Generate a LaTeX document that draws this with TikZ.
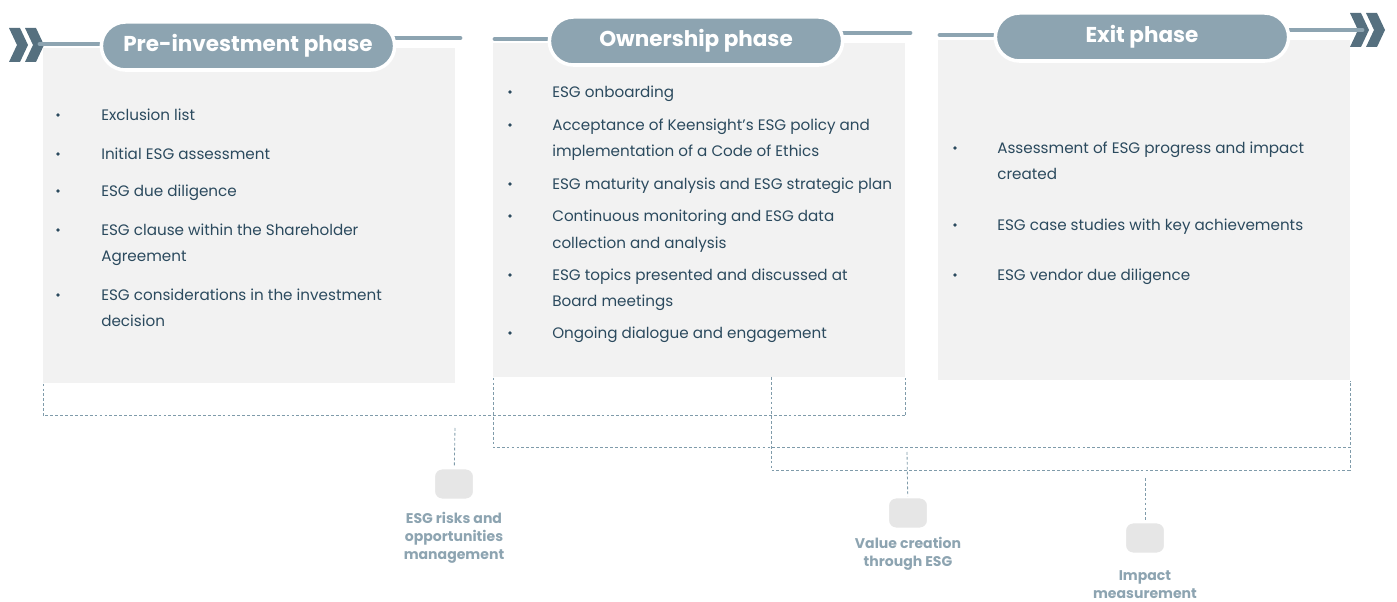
\documentclass[tikz,border=0pt]{standalone}
\usepackage{fontspec}
\setmainfont{Poppins}
\usepackage{tikz}
\usetikzlibrary{positioning}
\definecolor{slate}{HTML}{8DA4B1}
\definecolor{darkslate}{HTML}{56707F}
\definecolor{boxgrey}{HTML}{F2F2F2}
\definecolor{icongrey}{HTML}{E6E6E6}
\definecolor{bodytext}{HTML}{2B4A5E}
\definecolor{dashcol}{HTML}{7F9BAA}
\newcommand{\chevrons}[2]{%
  \foreach \dx in {0,16}
    \fill[darkslate] (#1+\dx,#2) -- ++(11,0) -- ++(8,17) -- ++(-8,17) -- ++(-11,0) -- ++(8,-17) -- cycle;}
\tikzset{phase/.style={fill=slate, draw=white, line width=2.5pt, rounded corners=0.6cm,
           minimum width=7.33cm, minimum height=1.2cm, text=white,
           font=\fontsize{15.3}{17}\selectfont\bfseries},
         panel/.style={fill=boxgrey, inner sep=0pt, anchor=north west, minimum width=10.3cm},
         track/.style={slate, line width=3.5pt, line cap=round},
         bracket/.style={dashcol, line width=0.6pt, dash pattern=on 2pt off 1.5pt},
         item/.style={anchor=west, inner sep=0pt, text=bodytext, text height=1.6ex, text depth=0.3ex,
           font=\fontsize{10.8}{13}\selectfont},
         dot/.style={inner sep=0pt, fill=bodytext, circle, minimum size=2.6pt},
         icon/.style={fill=icongrey, draw=white, line width=1.5pt, rounded corners=0.2cm,
           minimum width=1cm, minimum height=0.78cm},
         tag/.style={align=center, text=slate, inner sep=0pt,
           font=\fontsize{10}{12.8}\selectfont\bfseries}}

\begin{document}
\begin{tikzpicture}[x=0.025cm, y=-0.025cm]
\useasboundingbox (0,0) rectangle (1397,602);
\node[panel, minimum height=8.375cm] (prebox) at (43,48) {};
\node[panel, minimum height=8.35cm] (ownbox) at (493,43) {};
\node[panel, minimum height=8.5cm] (exitbox) at (938,40) {};
\chevrons{9}{28}
\chevrons{1350}{13}
\coordinate (lstart) at (40,44);
\coordinate (preend) at (460,38);
\coordinate (ownstart) at (495,39);
\coordinate (ownend) at (910,33);
\coordinate (exitstart) at (940,35);
\coordinate (rend) at (1362,30);
\draw[track] (lstart) -- (248,44);
\draw[track] (248,38) -- (preend);
\draw[track] (ownstart) -- (696,39);
\draw[track] (696,33) -- (ownend);
\draw[track] (exitstart) -- (1142,35);
\draw[track] (1142,30) -- (rend);
\node[phase] (pre) at (248,46) {Pre-investment phase};
\node[phase] (own) at (696,41) {Ownership phase};
\node[phase] (exit) at (1142,37) {Exit phase};
\foreach \y [count=\i] in {115,154,191,230,295}
  \node[dot] (preb\i) at (58,\y) {};
\foreach \y/\t [count=\i] in {115/Exclusion list, 154/Initial ESG assessment, 191/ESG due diligence,
    230/ESG clause within the Shareholder, 256/Agreement,
    295/ESG considerations in the investment, 321/decision}
  \node[item] (pre\i) at (101,\y) {\t};
\foreach \y [count=\i] in {92,125,184,216,275,333}
  \node[dot] (ownb\i) at (510,\y) {};
\foreach \y/\t [count=\i] in {92/ESG onboarding, 125/Acceptance of Keensight’s ESG policy and,
    151/implementation of a Code of Ethics, 184/ESG maturity analysis and ESG strategic plan,
    216/Continuous monitoring and ESG data, 243/collection and analysis,
    275/ESG topics presented and discussed at, 301/Board meetings,
    333/Ongoing dialogue and engagement}
  \node[item] (own\i) at (552,\y) {\t};
\foreach \y [count=\i] in {148,225,275}
  \node[dot] (exitb\i) at (955,\y) {};
\foreach \y/\t [count=\i] in {148/Assessment of ESG progress and impact, 174/created,
    225/ESG case studies with key achievements, 275/ESG vendor due diligence}
  \node[item] (exit\i) at (997,\y) {\t};
\draw[bracket] (prebox.south west) -- ++(0,32) -| (ownbox.south east);
\draw[bracket] (ownbox.south west) -- ++(0,70) -| (exitbox.south east);
\coordinate (cstart) at (771,377);
\coordinate (cend) at (1350,470);
\draw[bracket] (cstart) |- (cend) -- ++(0,-23);
\node[icon] (risk) at (454,484) {};
\node[icon] (value) at (908,513) {};
\node[icon] (impact) at (1145,538) {};
\coordinate (riskup) at (455,428);
\coordinate (valueup) at (907,452);
\coordinate (impactup) at (1145,478);
\draw[bracket] (riskup) -- (risk);
\draw[bracket] (valueup) -- (value);
\draw[bracket] (impactup) -- (impact);
\node[tag, below=0.28cm of risk] (risklbl) {ESG risks and\\opportunities\\management};
\node[tag, below=0.18cm of value] (valuelbl) {Value creation\\through ESG};
\node[tag, below=0.38cm of impact] (impactlbl) {Impact\\measurement};
\end{tikzpicture}
\end{document}
